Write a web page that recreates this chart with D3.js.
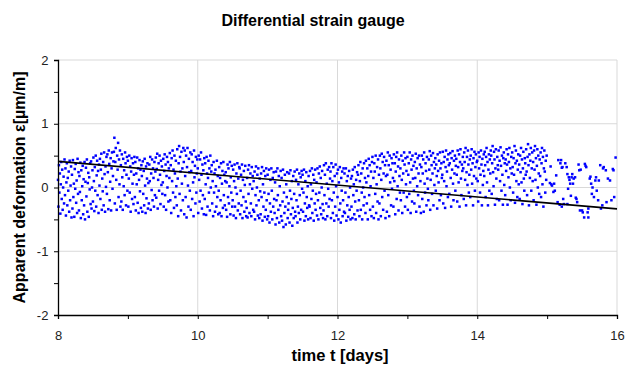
<!DOCTYPE html>
<html>
<head>
<meta charset="utf-8">
<script src="https://cdn.jsdelivr.net/npm/d3@7"></script>
<style>
  body { margin: 0; background: #fff; }
  text { font-family: "Liberation Sans", Arial, sans-serif; }
</style>
</head>
<body>
<div id="vizcontainer"></div>
<script>
// readings in hundredths of µm/m, 150 samples per day
const day8 = [12,-30,35,-8,22,-41,5,40,-18,28,-35,0,17,-25,44,
  -12,30,-44,8,38,-28,15,-5,25,-38,42,-20,3,33,-47,
  20,-33,43,-15,6,-46,29,-2,37,-24,11,-40,45,-10,24,
  -36,18,-7,39,-48,27,-20,2,34,-42,13,-28,40,-50,9,
  31,-14,44,-38,7,23,-46,16,-3,38,-26,41,-33,0,27,
  -22,47,10,-37,32,-5,50,-30,19,42,-12,26,-40,36,3,
  45,-18,28,53,-35,14,-6,40,-28,55,21,-38,33,1,48,
  -10,52,24,-34,58,37,-20,9,46,-36,30,55,-2,18,41,
  56,78,-25,40,62,12,-35,50,28,70,-15,44,5,58,-30,
  35,-22,52,16,-35,45,2,27,-12,55,38,-28,20,48,-5];
const day9 = [42,-30,14,50,-8,33,-38,25,46,-18,6,38,-26,20,48,
  -15,40,-36,22,5,47,-24,30,-40,12,43,-6,28,-32,35,
  18,-38,41,-10,26,-28,45,3,-40,33,-17,14,38,-33,7,
  -25,36,10,48,-35,22,-4,44,-20,30,15,-30,40,-12,25,
  47,-16,29,53,-33,12,38,-5,50,20,-26,42,4,33,-10,
  8,45,-30,26,52,-12,36,-35,18,48,0,40,-22,30,15,
  54,-20,35,-40,46,10,58,-8,28,-32,50,22,-15,42,2,
  -28,60,14,-45,38,65,-10,48,25,-36,56,6,30,-20,62,
  40,-42,58,18,-15,50,-47,32,62,3,-30,45,24,-5,55,
  -35,26,52,-18,40,8,-45,58,16,34,-25,48,-8,22,44];
const day10 = [30,-40,50,12,-22,44,-5,55,20,-33,36,-12,27,-42,46,
  -18,38,5,-43,48,22,-30,15,42,-8,30,-36,50,0,25,
  35,-25,10,-45,40,-8,22,-38,28,2,-30,42,-15,18,-42,
  -5,32,-40,15,-20,38,-45,6,26,-32,40,-12,20,-28,10,
  24,-35,8,-46,36,-15,30,-25,2,40,-42,16,-8,34,-30,
  -20,28,-44,10,36,-30,0,-48,22,-10,38,-36,14,-25,32,
  30,-42,-5,20,-28,36,-48,12,-15,26,-38,4,34,-22,-45,
  -32,15,-47,28,-10,35,-40,5,22,-25,-45,32,-2,18,-35,
  10,-38,25,-50,-12,33,-28,0,20,-44,30,-20,-48,14,-6,
  -42,22,-15,32,-52,5,-30,26,-8,-46,18,-35,30,-20,-50];
const day11 = [20,-45,-10,28,-55,-25,12,-38,30,-5,-50,15,-30,24,-18,
  -40,8,-58,25,-20,-48,30,-12,-35,18,-55,2,-28,26,-45,
  15,-52,-22,28,-62,-8,-40,20,-30,-58,5,-15,24,-48,-35,
  -25,22,-55,-5,27,-42,-18,10,-60,-32,18,-48,-10,25,-38,
  -45,12,-20,28,-55,-30,5,-40,22,-12,-50,16,-35,26,-2,
  20,-38,-8,28,-52,-25,10,-45,24,-15,-32,2,-50,18,-28,
  -30,26,-48,5,-18,30,-40,-5,20,-52,12,-25,28,-35,-10,
  8,-44,30,-20,-50,22,-8,33,-32,15,-42,0,26,-26,-48,
  -36,35,-12,20,-50,38,-25,6,-45,28,-2,-30,32,-18,14,
  25,-48,38,-20,10,-40,32,-8,-52,18,-30,36,2,-44,22];
const day12 = [-15,28,-50,8,-35,32,-25,-55,15,-5,25,-45,-20,30,-38,
  22,-40,-8,30,-52,10,-28,18,-46,-15,26,-35,0,-50,14,
  -30,18,-48,28,-12,5,-42,32,-22,-50,12,-5,24,-36,20,
  35,-20,-45,10,40,-35,22,-8,-50,30,0,-28,38,-15,15,
  -40,42,8,-25,30,-50,18,45,-12,35,-35,2,25,-45,40,
  48,-30,15,-48,38,25,-10,50,-40,5,32,-22,44,-50,20,
  -25,50,30,-45,12,53,-15,40,-35,22,48,-5,35,-48,18,
  42,-38,20,55,-12,35,-45,50,8,28,-28,46,-2,38,15,
  -30,52,10,38,-42,25,48,-18,55,2,33,-36,44,18,-8,
  30,-20,50,12,-40,42,22,-8,55,36,-30,46,5,26,-15];
const day13 = [48,-35,20,38,-10,55,8,-40,44,28,-22,50,14,34,-5,
  -25,40,15,53,-38,30,2,46,-12,22,50,-30,36,10,-40,
  32,50,-18,22,44,-38,55,6,-8,38,26,-28,48,14,-2,
  -20,44,28,57,-35,12,50,35,-10,22,54,-28,40,4,30,
  46,-5,36,18,-33,52,26,8,42,-20,55,30,-12,38,15,
  20,56,-25,40,10,48,-32,32,58,2,25,44,-15,52,35,
  -10,38,54,15,-30,46,28,57,6,-20,42,22,50,-5,34,
  45,20,-22,58,32,8,52,-30,40,60,14,-12,36,26,48,
  30,-18,55,40,12,62,-28,24,48,4,58,36,-8,20,44,
  -15,50,28,60,6,38,-28,46,18,56,-5,32,52,14,40];
const day14 = [42,10,-22,55,30,48,-8,20,58,36,-28,45,4,26,52,
  18,56,35,-15,48,62,8,40,-28,28,52,-5,44,22,58,
  50,-10,38,65,24,2,56,44,-27,30,60,14,-18,48,35,
  28,58,-20,42,10,63,34,-5,50,20,-27,46,55,4,38,
  -12,44,26,60,36,-27,52,16,40,62,0,30,-20,48,22,
  55,32,-8,46,20,65,-24,38,58,10,42,-15,28,52,5,
  36,-18,50,24,62,8,44,-26,30,56,14,-5,46,38,20,
  60,25,-12,48,68,35,-28,52,15,42,62,-5,30,55,10,
  40,-20,58,28,65,12,46,-27,34,60,0,50,22,-10,44,
  18,55,-15,38,62,5,48,-30,30,58,25,-8,42,12,50];

// after day 15 the logger only recorded now and then
const sparseT = [15.04,15.05,15.06,15.07,15.09,15.10,15.11,15.13,15.15,15.16,15.19,15.20,15.21,15.22,15.18,15.21,15.23,15.24,15.26,15.28,
  15.29,15.29,15.30,15.31,15.32,15.33,15.34,15.35,15.36,15.37,15.38,15.40,15.41,15.42,15.43,15.45,15.46,15.47,15.48,15.50,
  15.51,15.53,15.54,15.55,15.56,15.58,15.59,15.59,15.61,15.62,15.63,15.64,15.65,15.67,15.69,15.70,15.71,15.73,15.74,15.76,
  15.77,15.79,15.80,15.81,15.84,15.85,15.87,15.90,15.92,15.94,15.95,15.96,15.98];
const sparseV = [0.07,0.33,0.05,0.03,-0.07,0.06,-0.05,0.19,-0.23,0.43,0.38,0.43,0.31,0.32,-0.27,-0.30,-0.18,-0.26,0.38,0.32,
  -0.26,0.21,-0.02,0.16,0.12,0.06,-0.13,0.16,0.21,0.06,0.14,0.16,-0.16,-0.18,-0.23,0.36,0.27,-0.36,0.28,-0.36,
  -0.39,-0.47,0.37,0.34,0.32,-0.39,-0.47,-0.33,0.14,0.17,0.06,-0.10,0.00,-0.15,0.11,0.16,-0.05,-0.20,0.11,0.35,
  -0.33,-0.28,0.30,0.32,0.27,-0.23,0.14,0.11,-0.20,0.29,0.27,-0.15,0.47];

// linear trend
const trendT = [8, 16];
const trendV = [0.41, -0.335];

const xTicks = [8, 10, 12, 14, 16];
const yTicks = [-2, -1, 0, 1, 2];

const width = 625,
  height = 365;
const margin = {top: 60, right: 8, bottom: 50, left: 58};

let data = [];
[day8, day9, day10, day11, day12, day13, day14].forEach((arr, k) => {
  arr.forEach((v, i) => data.push({t: 8 + k + i / 150, v: v / 100}));
});
sparseT.forEach((t, i) => data.push({t: t, v: sparseV[i]}));

let viz = d3.select('#vizcontainer')
  .append('svg')
  .attr('width', width)
  .attr('height', height);

const x = d3.scaleLinear()
  .domain([8, 16])
  .range([margin.left, width - margin.right]);

const y = d3.scaleLinear()
  .domain([-2, 2])
  .range([height - margin.bottom, margin.top]);

// grid
viz.append('g')
  .selectAll('line')
  .data(yTicks.filter(d => d > -2))
  .join('line')
  .attr('x1', x(8)).attr('x2', x(16))
  .attr('y1', d => y(d)).attr('y2', d => y(d))
  .attr('stroke', '#d9d9d9');

viz.append('g')
  .selectAll('line')
  .data(xTicks.filter(d => d > 8))
  .join('line')
  .attr('x1', d => x(d)).attr('x2', d => x(d))
  .attr('y1', y(-2)).attr('y2', y(2))
  .attr('stroke', '#d9d9d9');

// points
viz.append('g')
  .selectAll('rect')
  .data(data)
  .join('rect')
  .attr('x', d => x(d.t) - 1.25)
  .attr('y', d => y(d.v) - 1.25)
  .attr('width', 2.5)
  .attr('height', 2.5)
  .attr('fill', '#0000ff');

// trend line
viz.append('path')
  .datum(trendT.map((t, i) => [t, trendV[i]]))
  .attr('d', d3.line().x(d => x(d[0])).y(d => y(d[1])))
  .attr('fill', 'none')
  .attr('stroke', '#000')
  .attr('stroke-width', 1.6);

// axes
const xAxis = viz.append('g')
  .attr('transform', `translate(0,${y(-2)})`)
  .call(d3.axisBottom(x).tickValues(d3.range(8, 17, 1)).tickSize(4)
    .tickFormat(d => d % 2 === 0 ? d : ''));
xAxis.selectAll('text').attr('dy', '1.35em');

const yAxis = viz.append('g')
  .attr('transform', `translate(${x(8)},0)`)
  .call(d3.axisLeft(y).tickValues(d3.range(-2, 2.01, 0.5)).tickSize(4)
    .tickFormat(d => Number.isInteger(d) ? d : ''));
yAxis.selectAll('text').attr('dx', '-0.2em');

viz.selectAll('.domain').attr('stroke', '#000').attr('stroke-width', 1.3);
viz.selectAll('.tick line').attr('stroke', '#000');
viz.selectAll('.tick text')
  .style('font-size', '13px')
  .attr('fill', '#222');

// titles
viz.append('text')
  .attr('x', 313).attr('y', 26)
  .attr('text-anchor', 'middle')
  .style('font-size', '16px')
  .style('font-weight', 'bold')
  .text('Differential strain gauge');

viz.append('text')
  .attr('x', 340).attr('y', 361)
  .attr('text-anchor', 'middle')
  .style('font-size', '16.5px')
  .style('font-weight', 'bold')
  .text('time t [days]');

viz.append('text')
  .attr('transform', `translate(25,${y(0)}) rotate(-90)`)
  .attr('text-anchor', 'middle')
  .style('font-size', '16px')
  .style('font-weight', 'bold')
  .text('Apparent deformation ε[µm/m]');
</script>
</body>
</html>
